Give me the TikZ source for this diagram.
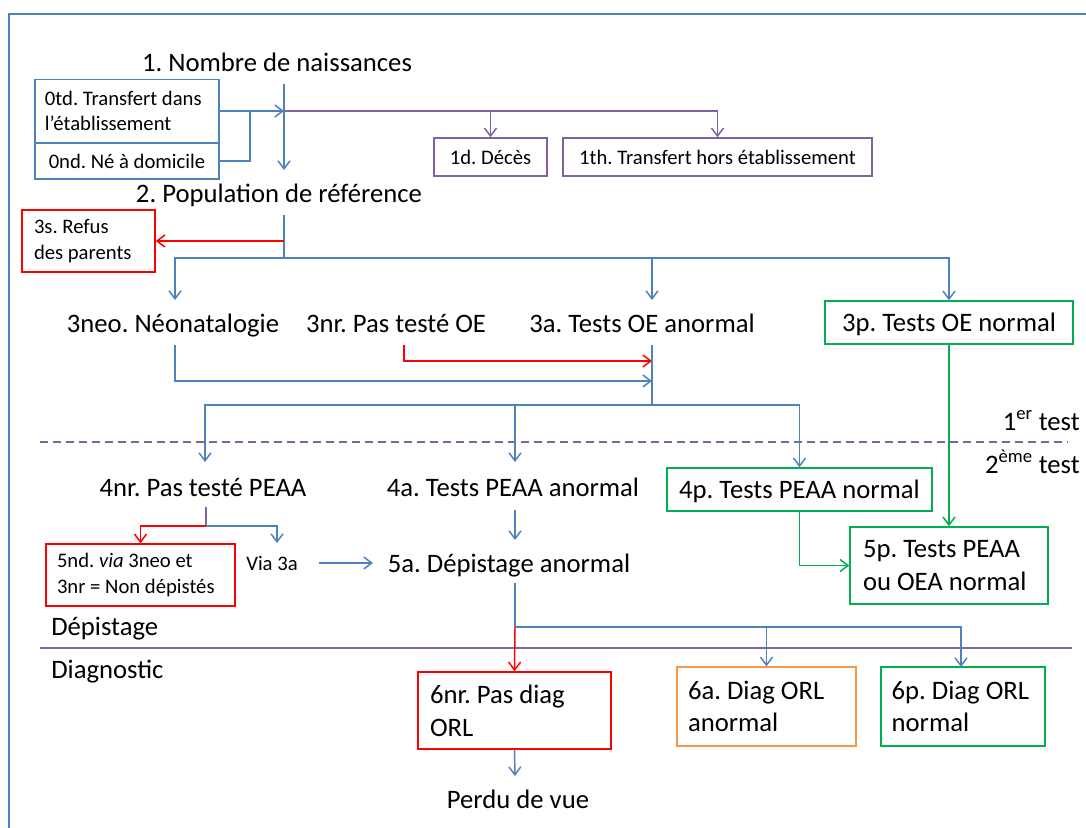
\documentclass[tikz,border=0pt]{standalone}
\usepackage{fontspec}
\setmainfont{Carlito}
\usetikzlibrary{arrows.meta}
\definecolor{blu}{RGB}{79,129,189}
\definecolor{pur}{RGB}{128,100,162}
\definecolor{rd}{RGB}{255,0,0}
\definecolor{grn}{RGB}{0,176,80}
\definecolor{org}{RGB}{247,150,70}
\begin{document}
\frenchspacing
\begin{tikzpicture}[x=0.75pt,y=-0.75pt,
  big/.style={font=\fontsize{20}{24}\selectfont, inner sep=0pt, anchor=base},
  small/.style={font=\fontsize{15.5}{19}\selectfont},
  bigbox/.style={font=\fontsize{20}{24.5}\selectfont},
  bx/.style={draw, line width=1.1pt, inner ysep=0pt, align=flush left},
  cbx/.style={draw, line width=1.1pt, inner xsep=2pt, inner ysep=0pt},
  ln/.style={line width=1.1pt},
  arr/.style={ln, -{Straight Barb[length=6pt,width=9pt]}},
]
\useasboundingbox (0,0) rectangle (1086,828);
\fill[white] (0,0) rectangle (1086,828);
\draw[blu, line width=1.5pt] (8.5,830) -- (8.5,14) -- (1090,14);

% separators
\draw[pur, line width=1.6pt, dash pattern=on 6pt off 3.75pt] (40,442) -- (1068,442);
\draw[pur, line width=1.6pt] (40,648) -- (1072,648);

% text nodes
\node[big] (t1) at (277,71) {1. Nombre de naissances};
\node[big] (t2) at (279,202) {2. Population de référence};
\node[big] (t3neo) at (173,332) {3neo. Néonatalogie};
\node[big] (t3nr) at (396,332) {3nr. Pas testé OE};
\node[big] (t3a) at (642,332) {3a. Tests OE anormal};
\node[big] (t4nr) at (203,496) {4nr. Pas testé PEAA};
\node[big] (t4a) at (513,496) {4a. Tests PEAA anormal};
\node[big] (t5a) at (509,572) {5a. Dépistage anormal};
\node[small, inner sep=0pt, anchor=base] (via) at (272,570) {Via 3a};
\node[big, anchor=base west] (dep) at (51,635) {Dépistage};
\node[big, anchor=base west] (diag) at (51,678) {Diagnostic};
\node[big] (perdu) at (518,808) {Perdu de vue};
\node[big, anchor=base east] (t1er) at (1080,430) {1\textsuperscript{er} test};
\node[big, anchor=base east] (t2e) at (1080,473) {2\textsuperscript{ème} test};

% boxes
\node[bx, small, draw=blu, inner xsep=7.5pt, text width=123pt, minimum height=47.25pt] (b0td) at (127,111) {0td. Transfert dans\\l’établissement};
\node[cbx, small, draw=blu, minimum width=138pt, minimum height=27pt] (b0nd) at (127,161) {0nd. Né à domicile};
\node[cbx, small, draw=pur, minimum width=84.75pt, minimum height=28.5pt] (b1d) at (490.5,157) {1d. Décès};
\node[cbx, small, draw=pur, minimum width=231.75pt, minimum height=28.5pt] (b1th) at (717.5,157) {1th. Transfert hors établissement};
\node[bx, small, draw=rd, inner xsep=9pt, text width=81.75pt, minimum height=46.5pt] (b3s) at (88.5,241) {3s. Refus\\des parents};
\node[cbx, big, inner sep=0pt, text depth=0pt, draw=grn, line width=1.1pt, minimum width=186pt, minimum height=32.25pt, anchor=center] (b3p) at (949,322.5) {3p. Tests OE normal};
\node[cbx, big, inner sep=0pt, text depth=0pt, draw=grn, line width=1.1pt, minimum width=198.75pt, minimum height=32.25pt, anchor=center] (b4p) at (799.5,489.5) {4p. Tests PEAA normal};
\node[bx, bigbox, draw=grn, inner xsep=9.75pt, text width=129pt, minimum height=57.75pt] (b5p) at (949,565.5) {5p. Tests PEAA\\ou OEA normal};
\node[bx, small, draw=rd, inner xsep=8.25pt, text width=125.25pt, minimum height=46.5pt] (b5nd) at (140.5,575) {5nd. \emph{via} 3neo et\\3nr = Non dépistés};
\node[bx, bigbox, draw=rd, inner xsep=9pt, text width=126.75pt, minimum height=57.75pt] (b6nr) at (514.5,710.5) {6nr. Pas diag\\ORL};
\node[bx, bigbox, draw=org, inner xsep=8.25pt, text width=117.75pt, minimum height=59.25pt] (b6a) at (766.5,706.5) {6a. Diag ORL\\anormal};
\node[bx, bigbox, draw=grn, inner xsep=8pt, text width=107pt, minimum height=59.25pt] (b6p) at (963,706.5) {6p. Diag ORL\\normal};

% coordinates
\coordinate (c1top) at (284,84);
\coordinate (c1) at (284,111);
\coordinate (c1bot) at (284,170);
\coordinate (j0) at (250,111);
\coordinate (c2top) at (284,215);
\coordinate (c2r) at (284,241);
\coordinate (c2) at (284,258);
\coordinate (a3neo) at (175,300);
\coordinate (a3a) at (652,300);
\coordinate (o3neo) at (175,345);
\coordinate (i3a1) at (652,381);
\coordinate (o3nr) at (404,345);
\coordinate (i3a2) at (652,361);
\coordinate (o3a) at (652,345);
\coordinate (c3) at (652,405);
\coordinate (a4nr) at (205,462);
\coordinate (a4a) at (515,462);
\coordinate (o4nr) at (206,507);
\coordinate (c4) at (206,526);
\coordinate (avia) at (277,543);
\coordinate (vs) at (319,563);
\coordinate (ve) at (373,563);
\coordinate (o4a) at (515,510);
\coordinate (i5a) at (515,540);
\coordinate (o5a) at (515,583);
\coordinate (c5) at (515,627);
\coordinate (a6p) at (961,667);
\coordinate (pv) at (515,776);

% connectors
\draw[pur,arr] (c1) -| (b1d.north);
\draw[pur,arr] (c1) -| (b1th.north);
\draw[blu,arr] (c1top) -- (c1bot);
\draw[blu,arr] (b0td.east) -- (c1);
\draw[blu,ln] (b0nd.east) -| (j0);

\draw[blu,ln] (c2top) -- (c2);
\draw[rd,arr] (c2r) -- (b3s.east);
\draw[blu,arr] (c2) -| (a3neo);
\draw[blu,arr] (c2) -| (a3a);
\draw[blu,arr] (c2) -| (b3p.north);

\draw[blu,arr] (o3neo) |- (i3a1);
\draw[rd,arr] (o3nr) |- (i3a2);
\draw[blu,ln] (o3a) -- (c3);
\draw[blu,arr] (c3) -| (a4nr);
\draw[blu,arr] (c3) -| (a4a);
\draw[blu,arr] (c3) -| (b4p.north);

\draw[grn,arr] (b3p.south) -- (b5p.north);
\draw[grn,arr] (b4p.south) |- (b5p.west);

\draw[pur,ln] (o4nr) -- (c4);
\draw[rd,arr] (c4) -| (b5nd.north);
\draw[blu,arr] (c4) -| (avia);
\draw[blu,arr] (vs) -- (ve);
\draw[blu,arr] (o4a) -- (i5a);

\draw[blu,ln] (o5a) -- (c5);
\draw[blu,arr] (c5) -| (b6a.north);
\draw[blu,arr] (c5) -| (a6p);
\draw[rd,arr] (c5) -- (b6nr.north);
\draw[blu,arr] (b6nr.south) -- (pv);
\end{tikzpicture}
\end{document}
